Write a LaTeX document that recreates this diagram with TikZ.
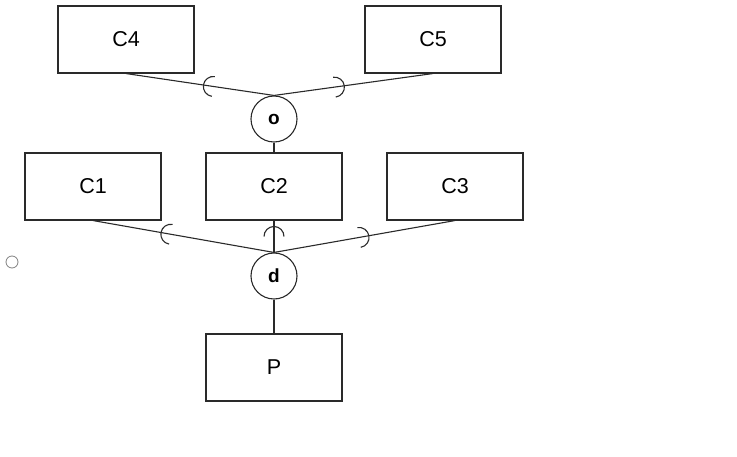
\documentclass[tikz,border=0pt]{standalone}
\usepackage{fontspec}
\setmainfont{Liberation Sans}
\usetikzlibrary{calc}
\definecolor{ln}{HTML}{2a2a2a}
\tikzset{
  ent/.style={draw=ln, line width=1.1pt, minimum width=136pt, minimum height=67pt, inner sep=0pt, font=\fontsize{21.5}{25}\selectfont},
  disj/.style={circle, draw=ln, line width=1.1pt, minimum size=46pt, inner sep=0pt, font=\bfseries\fontsize{19}{23}\selectfont},
  conn/.style={draw=ln, line width=1.1pt},
}
\newcommand{\cupmark}[3]{% from, to, pos
  \path let \p1=($(#2)-(#1)$), \n1={atan2(\y1,\x1)} in
    coordinate (m) at ($(#1)!#3!(#2)$)
    [draw=ln, line width=1.1pt] ($(m)+(\n1+90:10pt)$) arc[start angle=\n1+90, end angle=\n1+270, radius=10pt];
}
\begin{document}
\begin{tikzpicture}[x=1pt, y=-1pt]
\useasboundingbox (0,0) rectangle (737,457);
\node[ent] (c4) at (126,39.5) {C4};
\node[ent] (c5) at (433,39.5) {C5};
\node[ent] (c1) at (93,186.5) {C1};
\node[ent] (c2) at (274,186.5) {C2};
\node[ent] (c3) at (455,186.5) {C3};
\node[ent] (p) at (274,367.5) {P};
\node[disj] (o) at (274,119) {o};
\node[disj] (d) at (274,276) {d};
\node[circle, draw=gray, line width=0.8pt, minimum size=12pt, inner sep=0pt] (sm) at (12,262) {};
\draw[conn] (c4.south) -- (o.north);
\draw[conn] (c5.south) -- (o.north);
\draw[conn] (o.south) -- (c2.north);
\draw[conn] (c1.south) -- (d.north);
\draw[conn] (c2.south) -- (d.north);
\draw[conn] (c3.south) -- (d.north);
\draw[conn] (d.south) -- (p.north);
\cupmark{c4.south}{o.north}{0.59}
\cupmark{c5.south}{o.north}{0.62}
\cupmark{c1.south}{d.north}{0.43}
\cupmark{c2.south}{d.north}{0.5}
\cupmark{c3.south}{d.north}{0.53}
\end{tikzpicture}
\end{document}
